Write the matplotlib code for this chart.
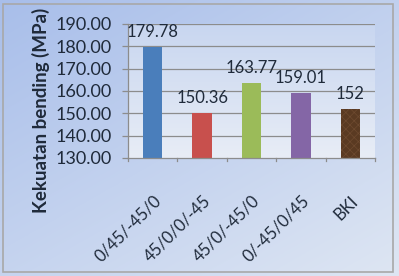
import numpy as np
import matplotlib
matplotlib.use("Agg")
import matplotlib.pyplot as plt
from matplotlib.patches import Rectangle

categories = ["0/45/-45/0", "45/0/0/-45", "45/0/-45/0", "0/-45/0/45", "BKI"]
values = [179.78, 150.36, 163.77, 159.01, 152]
value_labels = ["179.78", "150.36", "163.77", "159.01", "152"]
yticks = [130, 140, 150, 160, 170, 180, 190]
ylabel = "Kekuatan bending (MPa)"
colors = ["#4a7ebb", "#c8504d", "#9bbb59", "#8466a6", "#5a3a22"]

plt.rcParams["hatch.linewidth"] = 0.5

W, H = 399, 276
fig = plt.figure(figsize=(W / 100, H / 100), dpi=100)

# background gradient
bg = fig.add_axes([0, 0, 1, 1], zorder=-10)
yy, xx = np.mgrid[0:1:200j, 0:1:200j]
t = np.clip(0.55 * yy + 0.45 * xx, 0, 1)
c0 = np.array([168, 190, 234]) / 255
c1 = np.array([222, 230, 243]) / 255
img = c0[None, None, :] * (1 - t[..., None]) + c1[None, None, :] * t[..., None]
bg.imshow(img, extent=[0, 1, 0, 1], aspect="auto", origin="upper")
bg.add_patch(Rectangle((3 / W, 4 / H), (393 - 3) / W, (272 - 4) / H,
                       fill=False, edgecolor="#a8a8a8", lw=1.2, transform=bg.transAxes))
bg.set_xlim(0, 1); bg.set_ylim(0, 1)
bg.axis("off")

left, right = 128 / W, 375 / W
bottom, top = 1 - 158 / H, 1 - 24 / H
ax = fig.add_axes([left, bottom, right - left, top - bottom])
ax.patch.set_alpha(0)
# plot area gradient
grad = np.linspace(0, 1, 100)[:, None]
pa0 = np.array([200, 214, 240]) / 255
pa1 = np.array([232, 237, 246]) / 255
pimg = pa0[None, None, :] * (1 - grad[..., None]) + pa1[None, None, :] * grad[..., None]
pimg = np.repeat(pimg, 2, axis=1)
x = np.arange(len(categories))
ax.imshow(pimg, extent=[-0.5, len(categories) - 0.5, 130, 190], aspect="auto",
          origin="upper", zorder=0)

for yv in yticks[1:]:
    ax.axhline(yv, color="#8c8c8c", lw=0.9, zorder=1)

bars = ax.bar(x, [v - 130 for v in values], bottom=130, width=0.39, color=colors, zorder=2)
bars[-1].set_hatch("xxxx")
bars[-1].set_edgecolor("#6e4a30")
bars[-1].set_linewidth(0)

for xi, v, lab in zip(x, values, value_labels):
    ax.annotate(lab, (xi, v), xytext=(0, 5), textcoords="offset points",
                ha="center", va="bottom", fontsize=12, family="Lato",
                color="#1f2a3a", zorder=3)

ax.set_xlim(-0.5, len(categories) - 0.5)
ax.set_ylim(130, 190)
ax.set_yticks(yticks)
ax.set_yticklabels([f"{v:.2f}" for v in yticks], fontsize=13, family="Lato", color="#1f2a3a")
ax.set_xticks(x)
ax.set_xticklabels(categories, rotation=45, ha="right", rotation_mode="anchor",
                   fontsize=12, family="Lato", color="#1f2a3a")
ax.tick_params(axis="x", length=0, pad=25)
ax.tick_params(axis="y", length=4, color="#8c8c8c", width=0.9, pad=8)
for xb in np.arange(-0.5, len(categories), 1.0):
    ax.plot([xb, xb], [130, 128.6], color="#8c8c8c", lw=0.9, clip_on=False, zorder=3)
for s in ["top", "right"]:
    ax.spines[s].set_visible(False)
ax.spines["left"].set_color("#8c8c8c")
ax.spines["bottom"].set_color("#8c8c8c")
ax.spines["left"].set_linewidth(0.9)
ax.spines["bottom"].set_linewidth(0.9)

fig.text(41 / W, 1 - 110 / H, ylabel, rotation=90, ha="center", va="center",
         fontsize=13.5, fontweight="bold", family="Lato", color="#1f2a3a")

fig.savefig("out.png", dpi=100)
